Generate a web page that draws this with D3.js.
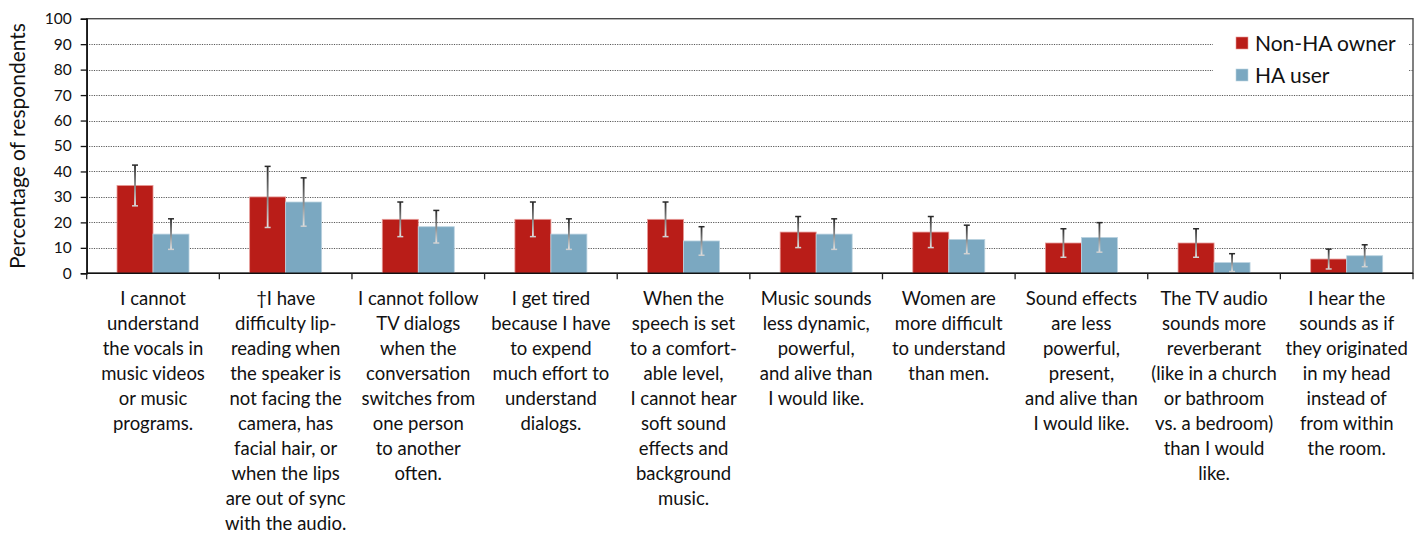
<!DOCTYPE html>
<html>
<head>
<meta charset="utf-8">
<script src="https://cdn.jsdelivr.net/npm/d3@7"></script>
<style>
  html, body { margin: 0; padding: 0; background: #fff; }
  svg { display: block; font-family: "Lato", "Open Sans", sans-serif; }
</style>
</head>
<body>
<svg id="chart" width="1425" height="534"></svg>
<script>
// Survey statements (one array entry per category, pre-broken into lines)
const categories = [
  ["I cannot", "understand", "the vocals in", "music videos", "or music", "programs."],
  ["\u2020I have", "difficulty lip-", "reading when", "the speaker is", "not facing the", "camera, has", "facial hair, or", "when the lips", "are out of sync", "with the audio."],
  ["I cannot follow", "TV dialogs", "when the", "conversation", "switches from", "one person", "to another", "often."],
  ["I get tired", "because I have", "to expend", "much effort to", "understand", "dialogs."],
  ["When the", "speech is set", "to a comfort-", "able level,", "I cannot hear", "soft sound", "effects and", "background", "music."],
  ["Music sounds", "less dynamic,", "powerful,", "and alive than", "I would like."],
  ["Women are", "more difficult", "to understand", "than men."],
  ["Sound effects", "are less", "powerful,", "present,", "and alive than", "I would like."],
  ["The TV audio", "sounds more", "reverberant", "(like in a church", "or bathroom", "vs. a bedroom)", "than I would", "like."],
  ["I hear the", "sounds as if", "they originated", "in my head", "instead of", "from within", "the room."]
];

const seriesNames = ["Non-HA owner", "HA user"];

// Percentage of respondents agreeing, with error-bar half widths
const nonHAOwner    = [34.5, 30.0, 21.2, 21.2, 21.2, 16.2, 16.2, 11.9, 11.9, 5.6];
const nonHAOwnerErr = [8.0, 12.0, 6.8, 6.8, 6.8, 6.1, 6.1, 5.6, 5.6, 3.9];
const haUser        = [15.4, 28.0, 18.3, 15.4, 12.7, 15.4, 13.3, 14.1, 4.2, 6.9];
const haUserErr     = [6.0, 9.5, 6.4, 6.0, 5.6, 6.0, 5.6, 5.8, 3.5, 4.3];

const yTicks = [0, 10, 20, 30, 40, 50, 60, 70, 80, 90, 100];
const yTitle = "Percentage of respondents";

const colors = { "Non-HA owner": "#B91D18", "HA user": "#7BA8C1" };
const strokes = { "Non-HA owner": "#E79A97", "HA user": "#BBD3E0" };

const svg = d3.select("#chart");
const plot = { left: 86.7, right: 1413, top: 18.7, bottom: 273.3 };

const catIdx = d3.range(categories.length);
const x = d3.scaleBand().domain(catIdx).range([plot.left, plot.right]).padding(0);
const barW = 36;
const pOuter = (x.bandwidth() / barW - seriesNames.length) / 2;
const xs = d3.scaleBand().domain(seriesNames).range([0, x.bandwidth()])
  .paddingInner(0).paddingOuter(pOuter);
const y = d3.scaleLinear().domain([0, 100]).range([plot.bottom, plot.top]);

const rows = catIdx.map(i => ({ i, values: [
  { s: seriesNames[0], v: nonHAOwner[i], e: nonHAOwnerErr[i] },
  { s: seriesNames[1], v: haUser[i], e: haUserErr[i] }
]}));

// gradient used on error bar stems (dark at top, fading toward the bottom)
const defs = svg.append("defs");
const g1 = defs.append("linearGradient").attr("id", "errGrad")
  .attr("x1", 0).attr("y1", 0).attr("x2", 0).attr("y2", 1);
g1.append("stop").attr("offset", "0%").attr("stop-color", "#2a2a2a");
g1.append("stop").attr("offset", "100%").attr("stop-color", "#e4e4e4");

// dotted horizontal gridlines
svg.append("g").selectAll("line")
  .data(yTicks.filter(t => t > 0 && t < 100))
  .join("line")
  .attr("x1", plot.left).attr("x2", plot.right)
  .attr("y1", d => Math.round(y(d)) + 0.5).attr("y2", d => Math.round(y(d)) + 0.5)
  .attr("stroke", "#5a5a5a").attr("stroke-width", 1)
  .attr("stroke-dasharray", "1.2 1.2");

// frame around the plot area
svg.append("rect")
  .attr("x", plot.left).attr("y", plot.top)
  .attr("width", plot.right - plot.left).attr("height", plot.bottom - plot.top)
  .attr("fill", "none").attr("stroke", "#4a4a4a").attr("stroke-width", 1.4);

// bars
const groups = svg.append("g").selectAll("g")
  .data(rows).join("g")
  .attr("transform", d => `translate(${x(d.i)},0)`);

groups.selectAll("rect.bar")
  .data(d => d.values).join("rect")
  .attr("class", "bar")
  .attr("x", d => xs(d.s)).attr("width", xs.bandwidth())
  .attr("y", d => y(d.v)).attr("height", d => y(0) - y(d.v))
  .attr("fill", d => colors[d.s])
  .attr("stroke", d => strokes[d.s]).attr("stroke-width", 0.8);

// error bars
const eb = groups.selectAll("g.err")
  .data(d => d.values).join("g").attr("class", "err")
  .attr("transform", d => `translate(${xs(d.s) + xs.bandwidth() / 2},0)`);
eb.append("rect")
  .attr("x", -0.9).attr("width", 1.8)
  .attr("y", d => y(d.v + d.e)).attr("height", d => y(d.v - d.e) - y(d.v + d.e))
  .attr("fill", "url(#errGrad)");
eb.append("line")
  .attr("x1", -3).attr("x2", 3)
  .attr("y1", d => y(d.v + d.e)).attr("y2", d => y(d.v + d.e))
  .attr("stroke", "#2a2a2a").attr("stroke-width", 1.5);
eb.append("line")
  .attr("x1", -3).attr("x2", 3)
  .attr("y1", d => y(d.v - d.e)).attr("y2", d => y(d.v - d.e))
  .attr("stroke", "#d0d0d0").attr("stroke-width", 1.5);

// y axis
const yAxis = svg.append("g")
  .attr("transform", `translate(${plot.left},0)`)
  .call(d3.axisLeft(y).tickValues(yTicks).tickSize(6).tickPadding(9));
yAxis.select(".domain").attr("stroke", "#111").attr("stroke-width", 1.5);
yAxis.selectAll(".tick line").attr("stroke", "#111").attr("stroke-width", 1.3);
yAxis.selectAll(".tick text")
  .attr("font-family", "Lato").attr("font-size", 15.5).attr("fill", "#111");

// x axis with ticks at category boundaries
const xAxis = svg.append("g").attr("transform", `translate(0,${plot.bottom})`);
xAxis.append("line")
  .attr("x1", plot.left).attr("x2", plot.right)
  .attr("stroke", "#111").attr("stroke-width", 1.5);
xAxis.selectAll("line.tk")
  .data(d3.range(categories.length + 1))
  .join("line").attr("class", "tk")
  .attr("x1", i => i < categories.length ? x(i) : plot.right)
  .attr("x2", i => i < categories.length ? x(i) : plot.right)
  .attr("y1", 0).attr("y2", 6)
  .attr("stroke", "#222").attr("stroke-width", 1.3);

// category labels
const lab = svg.append("g").selectAll("text")
  .data(rows).join("text")
  .attr("text-anchor", "middle")
  .attr("font-size", 18.5).attr("fill", "#111")
  .attr("transform", d => `translate(${x(d.i) + x.bandwidth() / 2},${305})`);
lab.selectAll("tspan")
  .data(d => categories[d.i]).join("tspan")
  .attr("x", 0).attr("y", (d, k) => k * 25)
  .text(d => d);

// y axis title
svg.append("text")
  .attr("transform", `translate(25,${(plot.top + plot.bottom) / 2}) rotate(-90)`)
  .attr("text-anchor", "middle")
  .attr("font-size", 21).attr("fill", "#111")
  .text(yTitle);

// legend
const legend = svg.append("g");
legend.append("rect")
  .attr("x", 1213).attr("y", 24).attr("width", 196).attr("height", 64)
  .attr("fill", "#fff");
const li = legend.selectAll("g.item")
  .data(seriesNames).join("g").attr("class", "item")
  .attr("transform", (d, k) => `translate(1236,${37 + k * 32})`);
li.append("rect").attr("width", 12).attr("height", 12)
  .attr("fill", d => colors[d]).attr("stroke", d => strokes[d]).attr("stroke-width", 0.6);
li.append("text").attr("x", 19).attr("y", 6).attr("dy", "0.36em")
  .attr("font-size", 21).attr("fill", "#111")
  .text(d => d);
</script>
</body>
</html>
